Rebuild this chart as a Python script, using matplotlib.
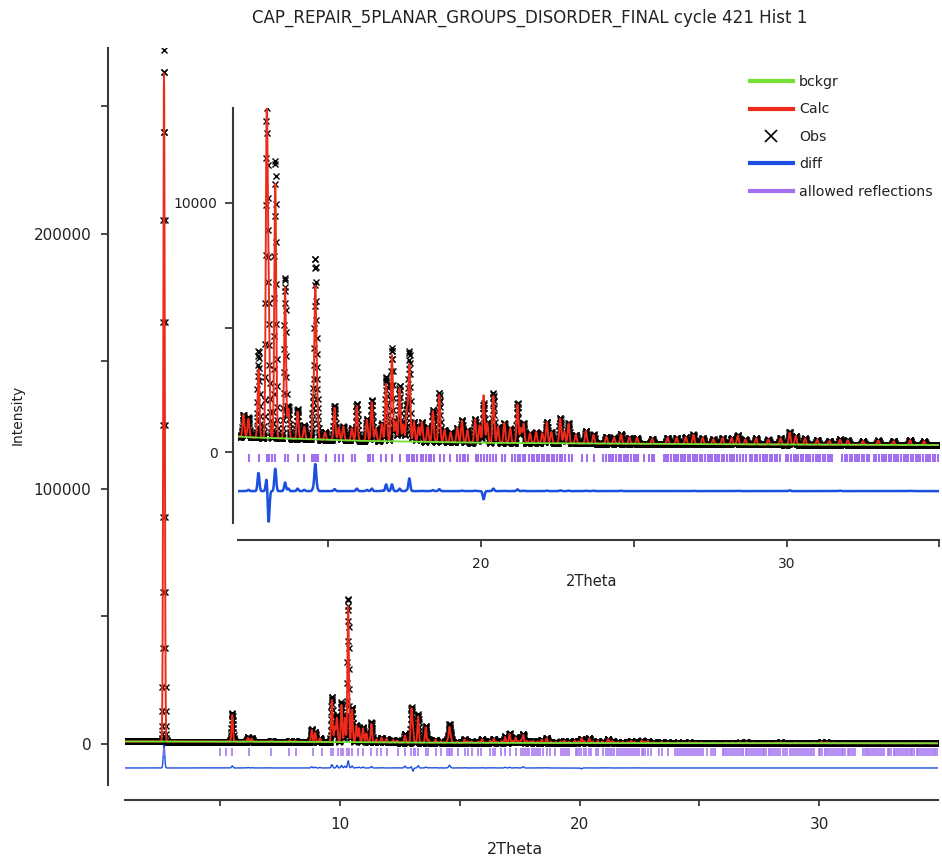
import numpy as np
import matplotlib
matplotlib.use('Agg')
import matplotlib.pyplot as plt
from matplotlib.lines import Line2D
from matplotlib.ticker import FixedLocator, NullFormatter

title = 'CAP_REPAIR_5PLANAR_GROUPS_DISORDER_FINAL cycle 421 Hist 1'

# peak table: 2Theta, calc height and obs height above background
peak_pos = [2.65, 5.50, 6.16, 6.31, 7.14, 7.90, 8.12, 8.82, 8.96, 9.16,
            9.66, 9.78, 9.87, 10.06, 10.20, 10.34, 10.50, 10.68, 10.79, 10.96,
            11.10, 11.31, 11.52, 11.73, 11.94, 12.22,
            12.38, 12.71, 12.98, 13.04, 13.26, 13.58, 13.69, 13.99, 14.21, 14.50,
            14.57, 14.63, 14.89, 15.20, 15.34, 15.49, 15.77, 15.93, 16.26, 16.42,
            16.55, 16.75, 16.89, 17.08, 17.20, 17.33, 17.45, 17.57, 17.65, 17.80,
            17.95, 18.06, 18.25, 18.42, 18.63, 18.80, 19.00, 19.22, 19.37, 19.55,
            19.80, 19.95, 20.08, 20.20, 20.40, 20.55, 20.76, 20.95, 21.19, 21.30,
            21.39, 21.60, 21.80, 22.00, 22.15, 22.30, 22.59, 22.72, 22.86, 23.10,
            23.43, 23.68, 24.10, 24.35, 24.58, 24.85, 25.10, 25.60, 26.10, 26.40,
            26.70, 26.95, 27.25, 27.60, 27.90, 28.20, 28.40, 28.65, 29.00, 29.40,
            29.80, 30.10, 30.30, 30.60, 31.00, 31.40, 31.75, 32.00, 32.50, 33.00,
            33.50, 34.04, 34.50]
calc_h = [262000, 10500, 1500, 1200, 400, 500, 400, 4600, 3600, 1500,
          16500, 6000, 9500, 14500, 9500, 53500, 12800, 6500, 5500, 5500,
          3500, 7200, 1200, 1800, 1500, 900,
          750, 2750, 12580, 5500, 10250, 6100, 1200, 1100, 500, 1200,
          5880, 1700, 300, 1300, 500, 560, 500, 1400, 850, 1550,
          500, 700, 2320, 3470, 800, 2150, 700, 1300, 3080, 800,
          600, 800, 600, 1250, 1900, 500, 400, 600, 880, 500,
          950, 700, 1910, 800, 1900, 650, 800, 600, 1550, 600,
          780, 400, 450, 400, 850, 450, 1000, 500, 800, 350,
          500, 350, 280, 250, 380, 250, 250, 200, 250, 250,
          280, 380, 250, 200, 250, 250, 350, 200, 250, 200,
          250, 480, 350, 250, 200, 150, 200, 180, 150, 180,
          150, 190, 150]
obs_h = [271000, 11300, 1700, 1300, 450, 500, 400, 5100, 3900, 1700,
         17800, 6000, 10500, 15500, 10200, 56300, 13600, 6700, 5800, 5900,
         3500, 7800, 1200, 1900, 1500, 900,
         800, 3480, 13150, 4200, 11150, 6450, 1300, 1200, 550, 1300,
         6950, 1800, 300, 1380, 500, 560, 500, 1500, 900, 1650,
         500, 720, 2590, 3740, 800, 2250, 700, 1340, 3590, 800,
         600, 810, 600, 1290, 1980, 500, 400, 600, 900, 500,
         970, 700, 1580, 800, 2000, 650, 810, 600, 1620, 600,
         800, 400, 450, 400, 870, 450, 1030, 500, 820, 350,
         520, 370, 280, 250, 400, 250, 250, 200, 250, 250,
         280, 390, 250, 200, 250, 250, 360, 200, 250, 200,
         250, 510, 350, 250, 200, 150, 220, 180, 150, 180,
         150, 200, 150]

# background knots
bg_pos = [1.0, 5.0, 10.0, 12.4, 16.0, 20.0, 25.0, 30.0, 35.0]
bg_val = [1000, 950, 800, 590, 450, 370, 330, 300, 280]

# allowed reflection positions
refl_pos = [2.66, 4.99, 5.24, 5.50, 6.21, 7.12, 7.88, 8.15, 8.89, 9.24, 9.63, 9.72,
            9.93, 10.04, 10.14, 10.28, 10.39, 10.51, 10.77, 10.97, 11.28, 11.53, 11.71, 11.95,
            12.41, 12.73, 12.98, 13.07, 13.15, 13.26, 13.58, 13.69, 14.00, 14.21, 14.46, 14.53,
            14.60, 14.67, 14.93, 15.20, 15.33, 15.49, 15.77, 15.88, 16.28, 16.37, 16.45, 16.72,
            16.89, 17.08, 17.33, 17.57, 17.65, 17.73, 17.81, 17.89, 18.03, 18.11, 18.20, 18.28,
            18.36, 18.46, 18.64, 18.77, 18.99, 19.22, 19.31, 19.40, 19.48, 19.58, 19.84, 19.91,
            19.99, 20.08, 20.19, 20.29, 20.40, 20.49, 20.68, 20.79, 21.00, 21.11, 21.19, 21.28,
            21.36, 21.44, 21.55, 21.66, 21.74, 21.83, 21.90, 21.99, 22.07, 22.15, 22.22, 22.31,
            22.40, 22.47, 22.59, 22.66, 22.75, 22.86, 22.97, 23.30, 23.46, 23.70,
            24.00, 24.08, 24.17, 24.24, 24.33, 24.42, 24.50, 24.57, 24.66, 24.75, 24.82, 24.92,
            25.00, 25.07, 25.15, 25.34, 25.50, 25.58, 25.66,
            25.97, 26.05, 26.12, 26.21, 26.30, 26.37, 26.45, 26.54, 26.61, 26.68, 26.77, 26.84,
            26.93, 27.00, 27.08, 27.17, 27.24, 27.32, 27.41, 27.48, 27.56, 27.65, 27.72, 27.80,
            27.89, 27.96, 28.04, 28.13, 28.20, 28.29, 28.37, 28.48, 28.57, 28.68,
            28.80, 28.88, 28.97, 29.04, 29.12, 29.21, 29.28, 29.36, 29.45, 29.52, 29.61, 29.70,
            29.78, 29.98, 30.06, 30.14, 30.23, 30.30, 30.38, 30.47, 30.54, 30.62, 30.71, 30.78,
            30.86, 30.95, 31.02, 31.10, 31.19, 31.26, 31.34, 31.43, 31.50,
            31.82, 31.90, 31.99, 32.06, 32.14, 32.23, 32.30, 32.38, 32.47, 32.54, 32.62, 32.70,
            32.86, 32.94, 33.02, 33.11, 33.18, 33.26, 33.35, 33.42, 33.50, 33.59, 33.66, 33.74,
            33.83, 33.90, 33.98, 34.07, 34.14, 34.22, 34.31, 34.38, 34.46, 34.55, 34.62, 34.70,
            34.79, 34.86, 34.94]

step = 0.0075
sigma = 0.03

tt = np.arange(1.0, 35.0 + step / 2, step)
bg = np.interp(tt, bg_pos, bg_val)
shape = np.exp(-0.5 * ((tt[:, None] - np.array(peak_pos)[None, :]) / sigma) ** 2)
calc = bg + shape @ np.array(calc_h, float)
obs = bg + shape @ np.array(obs_h, float)
diff = obs - calc

green = '#72e034'
red = '#ee2a1a'
blue = '#1a4fe0'
purple = '#a070f0'
spine_c = '#3a3a3a'
txt_c = '#222222'

plt.rcParams['font.family'] = ['DejaVu Sans']
W, H = 942, 858
fig = plt.figure(figsize=(W / 100, H / 100), dpi=100)


def style(ax, yout, xout):
    for s in ['top', 'right']:
        ax.spines[s].set_visible(False)
    ax.spines['left'].set_position(('outward', yout))
    ax.spines['bottom'].set_position(('outward', xout))
    for s in ['left', 'bottom']:
        ax.spines[s].set_color(spine_c)
        ax.spines[s].set_linewidth(1.5)
    ax.set_facecolor('none')


# ---- main plot
ax = fig.add_axes([124.5 / W, (H - 784.8) / H, 813.1 / W, 737 / H])
ax.plot(tt, obs, ls='none', marker='x', ms=4.0, mew=1.0, color='k')
ax.plot(tt, calc, color=red, lw=1.4)
ax.plot(tt, bg, color=green, lw=1.3)
ax.plot(tt, diff - 9400, color=blue, lw=1.0)
ax.vlines(refl_pos, -4700, -1600, color=purple, lw=1.1)
ax.set_xlim(1.0, 34.95)
ax.set_ylim(-16000, 273000)
style(ax, 12, 11)
ax.xaxis.set_major_locator(FixedLocator([10, 20, 30]))
ax.xaxis.set_minor_locator(FixedLocator([5, 15, 25]))
ax.yaxis.set_major_locator(FixedLocator([0, 100000, 200000]))
ax.yaxis.set_minor_locator(FixedLocator([50000, 150000, 250000]))
ax.xaxis.set_minor_formatter(NullFormatter())
ax.yaxis.set_minor_formatter(NullFormatter())
ax.tick_params(axis='x', which='both', direction='out', length=4.5, width=1.3,
               color=spine_c, labelsize=11, labelcolor=txt_c, pad=8)
ax.tick_params(axis='y', which='both', direction='out', length=5, width=1.3,
               color=spine_c, labelsize=11, labelcolor=txt_c, pad=7)

# ---- inset
ax2 = fig.add_axes([238.3 / W, (H - 523) / H, 701.1 / W, 415 / H])
ax2.plot(tt, obs, ls='none', marker='x', ms=4.0, mew=1.0, color='k')
ax2.plot(tt, calc, color=red, lw=1.4)
ax2.plot(tt, bg, color=green, lw=1.3)
ax2.plot(tt, diff - 1570, color=blue, lw=1.8)
ax2.vlines(refl_pos, -390, -80, color=purple, lw=1.5)
ax2.set_xlim(12.05, 35.0)
ax2.set_ylim(-2851, 13815)
style(ax2, 3.8, 12.2)
ax2.xaxis.set_major_locator(FixedLocator([20, 30]))
ax2.xaxis.set_minor_locator(FixedLocator([15, 25, 35]))
ax2.yaxis.set_major_locator(FixedLocator([0, 10000]))
ax2.yaxis.set_minor_locator(FixedLocator([5000]))
ax2.xaxis.set_minor_formatter(NullFormatter())
ax2.yaxis.set_minor_formatter(NullFormatter())
ax2.tick_params(axis='x', which='both', direction='out', length=5, width=1.3,
                color=spine_c, labelsize=10, labelcolor=txt_c, pad=7)
ax2.tick_params(axis='y', which='both', direction='out', length=6, width=1.3,
                color=spine_c, labelsize=10, labelcolor=txt_c, pad=5)

# ---- texts
fig.text(530 / W, 1 - 18 / H, title, ha='center', va='center', fontsize=12, color=txt_c)
fig.text(18 / W, 1 - 415 / H, 'Intensity', rotation=90, ha='center', va='center',
         fontsize=10, color=txt_c)
fig.text(515 / W, 1 - 850 / H, '2Theta', ha='center', va='center', fontsize=11.5, color=txt_c)
fig.text(592 / W, 1 - 581 / H, '2Theta', ha='center', va='center', fontsize=10.5, color=txt_c)

handles = [Line2D([], [], color=green, lw=3),
           Line2D([], [], color=red, lw=3),
           Line2D([], [], ls='none', marker='x', ms=9, mew=1.2, color='k'),
           Line2D([], [], color=blue, lw=3),
           Line2D([], [], color=purple, lw=3)]
labels = ['bckgr', 'Calc', 'Obs', 'diff', 'allowed reflections']
fig.legend(handles, labels, loc='upper left', bbox_to_anchor=(750 / W, 1 - 75 / H),
           frameon=False, fontsize=10.2, handlelength=3.0, handletextpad=0.45,
           labelspacing=0.95, borderpad=0, borderaxespad=0, labelcolor=txt_c)

fig.savefig('out.png', dpi=100)
